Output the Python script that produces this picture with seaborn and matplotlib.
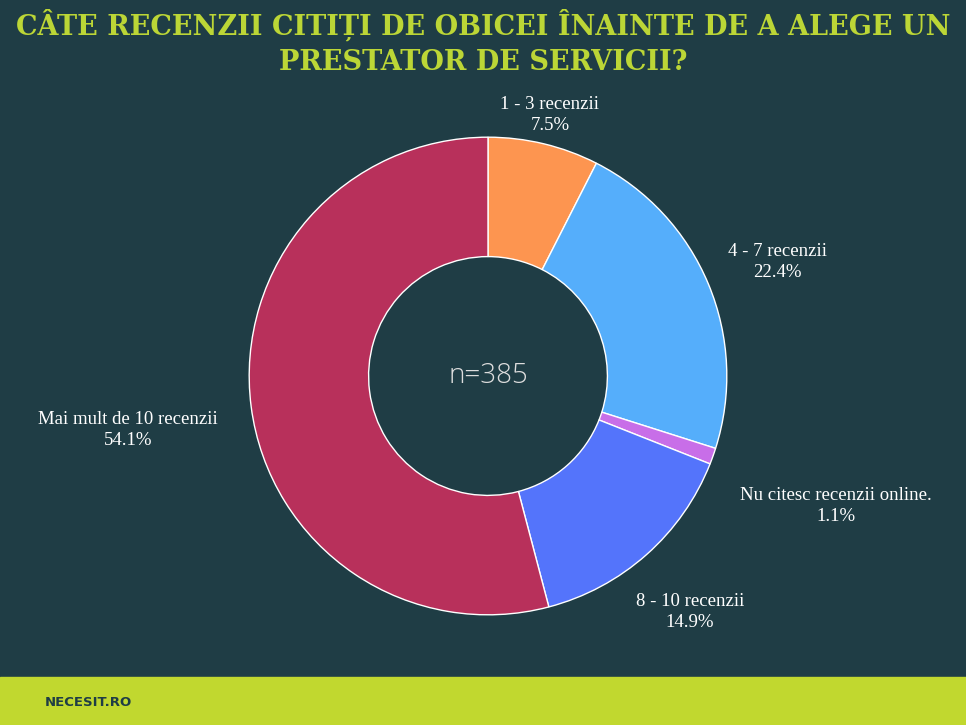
import matplotlib
matplotlib.use("Agg")
import matplotlib.pyplot as plt
import seaborn as sns

categorii = ["1 - 3 recenzii", "4 - 7 recenzii", "Nu citesc recenzii online.",
             "8 - 10 recenzii", "Mai mult de 10 recenzii"]
procente = [7.5, 22.4, 1.1, 14.9, 54.1]
culori = ["#fd9550", "#55aefb", "#c86ee8", "#5474fb", "#b8305b"]
titlu = "CÂTE RECENZII CITIȚI DE OBICEI ÎNAINTE DE A ALEGE UN\nPRESTATOR DE SERVICII?"

sns.set_theme(style="white", palette=culori)
FUNDAL = "#1f3d45"
W, H = 966, 725

fig = plt.figure(figsize=(9.66, 7.25), dpi=100, facecolor=FUNDAL)

def px(x, y):
    return x / W, 1 - y / H

ax = fig.add_axes([(488 - 240) / W, (725 - 616) / H, 480 / W, 480 / H])
ax.set_facecolor(FUNDAL)
ax.pie(procente, colors=culori, startangle=90, counterclock=False,
       wedgeprops=dict(width=0.5, edgecolor="white", linewidth=1))
ax.set_xlim(-1.005, 1.005)
ax.set_ylim(-1.005, 1.005)
ax.set_aspect("equal")
ax.axis("off")
ax.text(0, 0, "n=385", ha="center", va="center", color="#dddddd", fontsize=20,
        family="Open Sans", fontweight="light")

# etichete
pozitii = [(550, 115), (777, 262), (836, 506), (690, 612), (128, 430)]
for (x, y), cat, p in zip(pozitii, categorii, procente):
    fig.text(*px(x, y), f"{cat}\n{p}%", ha="center", va="center", color="white",
             fontsize=13.5, family="Liberation Serif", linespacing=1.25)

fig.text(*px(483, 42), titlu, ha="center", va="center", color="#bcd636",
         fontsize=19.5, fontweight="bold", family="DejaVu Serif", linespacing=1.4)

# bara de jos
fig.patches.append(plt.Rectangle((0, 0), 1, 48 / H, transform=fig.transFigure,
                                 color="#c1d82f", zorder=0))
fig.text(*px(45, 702), "NECESIT.RO", ha="left", va="center", color="#1f3d45",
         fontsize=9.5, fontweight="bold", family="DejaVu Sans")

fig.savefig("out.png", dpi=100, facecolor=FUNDAL)
